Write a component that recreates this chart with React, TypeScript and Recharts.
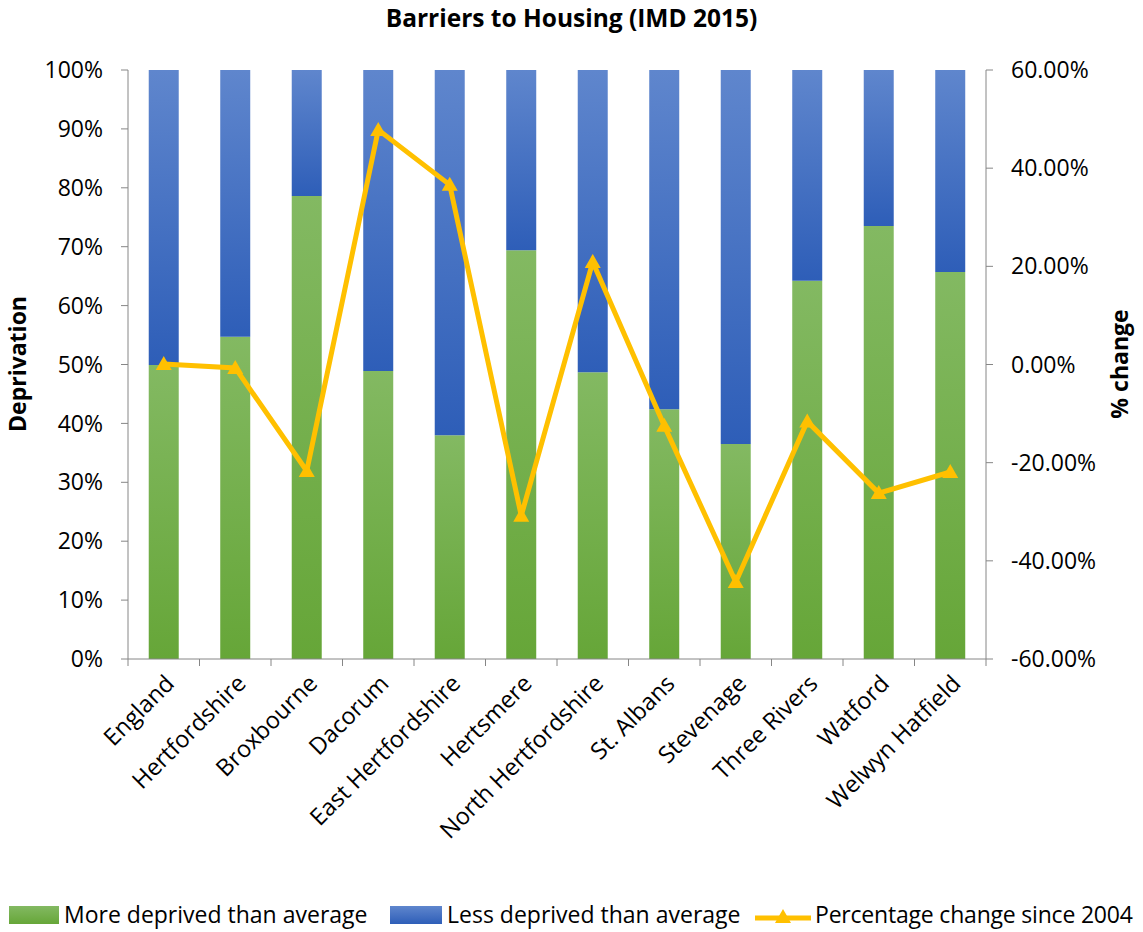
import React from "react";
import { Bar, ComposedChart, Line, XAxis, YAxis } from "recharts";

const categories = [
  "England",
  "Hertfordshire",
  "Broxbourne",
  "Dacorum",
  "East Hertfordshire",
  "Hertsmere",
  "North Hertfordshire",
  "St. Albans",
  "Stevenage",
  "Three Rivers",
  "Watford",
  "Welwyn Hatfield",
];
const moreDeprived = [0.499, 0.547, 0.786, 0.489, 0.38, 0.694, 0.487, 0.424, 0.365, 0.642, 0.735, 0.657];
const lessDeprived = [0.501, 0.453, 0.214, 0.511, 0.62, 0.306, 0.513, 0.576, 0.635, 0.358, 0.265, 0.343];
const changeSince2004 = [0.001, -0.007, -0.217, 0.478, 0.366, -0.308, 0.209, -0.125, -0.443, -0.116, -0.262, -0.219];

const leftTicks = [0, 0.1, 0.2, 0.3, 0.4, 0.5, 0.6, 0.7, 0.8, 0.9, 1];
const rightTicks = [-0.6, -0.4, -0.2, 0, 0.2, 0.4, 0.6];

const data = categories.map((name, i) => ({
  name,
  more: moreDeprived[i],
  less: lessDeprived[i],
  change: changeSince2004[i],
}));

const FONT = "'Open Sans', sans-serif";
const AXIS = "#868686";
const GOLD = "#FFC000";
const PLOT_W = 858;

function XTick(props: any) {
  const { x, y, payload, index } = props;
  const band = PLOT_W / categories.length;
  return (
    <g>
      <line x1={x - band / 2} y1={y} x2={x - band / 2} y2={y + 7} stroke={AXIS} />
      {index === categories.length - 1 && (
        <line x1={x + band / 2} y1={y} x2={x + band / 2} y2={y + 7} stroke={AXIS} />
      )}
      <text
        x={x + 12}
        y={y + 26}
        transform={`rotate(-45 ${x + 12} ${y + 26})`}
        textAnchor="end"
        fontFamily={FONT}
        fontSize={23.5}
        fill="#000"
      >
        {payload.value}
      </text>
    </g>
  );
}

function Triangle(props: any) {
  const { cx, cy } = props;
  if (cx == null || cy == null) return null;
  return <polygon points={`${cx},${cy - 8} ${cx + 8},${cy + 6} ${cx - 8},${cy + 6}`} fill={GOLD} />;
}

export default function App() {
  return (
    <div style={{ position: "absolute", left: 0, top: 0, width: 1143, height: 932, background: "#fff" }}>
      <div
        style={{
          position: "absolute",
          top: 1,
          left: 0,
          width: 1143,
          textAlign: "center",
          fontFamily: FONT,
          fontWeight: 700,
          fontSize: 24.5,
        }}
      >
        Barriers to Housing (IMD 2015)
      </div>
      <ComposedChart
        width={1143}
        height={932}
        data={data}
        barCategoryGap="29%"
        margin={{ top: 70, right: 57, left: 28, bottom: 123 }}
      >
        <defs>
          <linearGradient id="gGreen" x1="0" y1="0" x2="0" y2="1">
            <stop offset="0%" stopColor="#83B962" />
            <stop offset="100%" stopColor="#66A638" />
          </linearGradient>
          <linearGradient id="gBlue" x1="0" y1="0" x2="0" y2="1">
            <stop offset="0%" stopColor="#5F86CD" />
            <stop offset="100%" stopColor="#2E5EB8" />
          </linearGradient>
        </defs>
        <XAxis
          dataKey="name"
          interval={0}
          height={150}
          stroke={AXIS}
          tickLine={false}
          tickSize={0}
          tickMargin={0}
          tick={<XTick />}
        />
        <YAxis
          yAxisId="left"
          orientation="left"
          width={100}
          domain={[0, 1]}
          ticks={leftTicks}
          interval={0}
          tickFormatter={(v: number) => `${Math.round(v * 100)}%`}
          stroke={AXIS}
          tickSize={7}
          tickMargin={18}
          tick={{ fill: "#000", fontFamily: FONT, fontSize: 23 }}
          label={{
            content: () => (
              <text
                x={26}
                y={364}
                transform="rotate(-90 26 364)"
                textAnchor="middle"
                fontFamily={FONT}
                fontWeight={700}
                fontSize={23}
                fill="#000"
              >
                Deprivation
              </text>
            ),
          }}
        />
        <YAxis
          yAxisId="right"
          orientation="right"
          width={100}
          domain={[-0.6, 0.6]}
          ticks={rightTicks}
          interval={0}
          tickFormatter={(v: number) => `${(v * 100).toFixed(2)}%`}
          stroke={AXIS}
          tickSize={7}
          tickMargin={18}
          tick={{ fill: "#000", fontFamily: FONT, fontSize: 23 }}
          label={{
            content: () => (
              <text
                x={1128}
                y={364}
                transform="rotate(-90 1128 364)"
                textAnchor="middle"
                fontFamily={FONT}
                fontWeight={700}
                fontSize={23}
                fill="#000"
              >
                % change
              </text>
            ),
          }}
        />
        <Bar yAxisId="left" dataKey="more" stackId="a" fill="url(#gGreen)" isAnimationActive={false} />
        <Bar yAxisId="left" dataKey="less" stackId="a" fill="url(#gBlue)" isAnimationActive={false} />
        <Line
          yAxisId="right"
          dataKey="change"
          stroke={GOLD}
          strokeWidth={5}
          strokeLinejoin="miter"
          dot={<Triangle />}
          activeDot={false}
          isAnimationActive={false}
        />
      </ComposedChart>
      <Legend />
    </div>
  );
}

function Legend() {
  const text = { fontFamily: FONT, fontSize: 23, color: "#000", whiteSpace: "nowrap" as const };
  return (
    <div style={{ position: "absolute", top: 898, left: 0, width: 1143, height: 32 }}>
      <div style={{ position: "absolute", left: 9, top: 8, width: 50, height: 18, background: "linear-gradient(#83B962, #66A638)" }} />
      <div style={{ ...text, position: "absolute", left: 64, top: 0 }}>More deprived than average</div>
      <div style={{ position: "absolute", left: 390, top: 8, width: 52, height: 18, background: "linear-gradient(#5F86CD, #2E5EB8)" }} />
      <div style={{ ...text, position: "absolute", left: 447, top: 0 }}>Less deprived than average</div>
      <svg style={{ position: "absolute", left: 754, top: 6 }} width={58} height={22}>
        <line x1={1} y1={14} x2={57} y2={14} stroke={GOLD} strokeWidth={5} />
        <polygon points="29,5 37,19 21,19" fill={GOLD} />
      </svg>
      <div style={{ ...text, position: "absolute", left: 815, top: 0, letterSpacing: -0.2 }}>
        Percentage change since 2004
      </div>
    </div>
  );
}
